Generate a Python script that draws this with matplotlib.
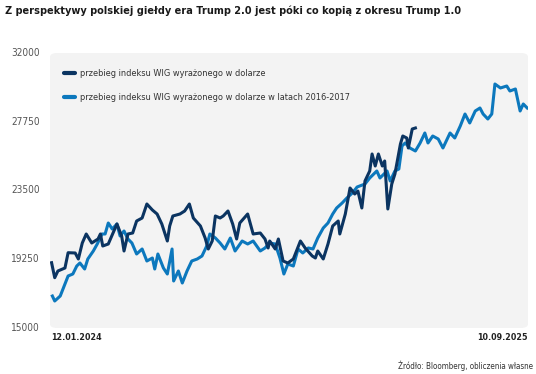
import matplotlib
matplotlib.use('Agg')
from matplotlib import pyplot as plt
from matplotlib.patches import FancyBboxPatch
from matplotlib.lines import Line2D

# days since 12.01.2024 and index level (USD)
days_now = [2, 6, 10, 19, 23, 32, 36, 41, 46, 53, 61, 64, 67, 74, 85, 91, 94, 99, 105, 110,
            117, 123, 130, 136, 142, 149, 152, 156, 165, 171, 177, 182, 191, 197, 201, 206, 210,
            216, 220, 226, 232, 237, 241, 251, 258, 267, 273, 277, 279, 286, 290, 296, 302, 309,
            318, 324, 333, 337, 340, 347, 353, 359, 366, 368, 375, 378, 381, 387, 391, 396, 400,
            406, 409, 413, 417, 422, 425, 429, 434, 438, 445, 448, 453, 455, 460, 464]
wig_now = [19037, 18110, 18524, 18709, 19655, 19637, 19266, 20255, 20811, 20255, 20502, 20811,
           20069, 20193, 21429, 20687, 19760, 20811, 20873, 21615, 21800, 22666, 22295, 22047,
           21429, 20378, 21306, 21924, 22047, 22233, 22666, 21800, 21306, 20564, 19884, 20378,
           21924, 21800, 21924, 22233, 21429, 20502, 21491, 22047, 20811, 20873, 20502, 19946,
           20378, 19884, 20502, 19142, 19018, 19266, 20378, 19946, 19451, 19327, 19760, 19266,
           20193, 21306, 21615, 20811, 22047, 22851, 23655, 23284, 23467, 22418, 24088, 24706,
           25757, 25015, 25757, 25015, 25324, 22357, 23902, 24520, 26375, 26869, 26746, 26128,
           27302, 27364]

days_old = [3, 6, 13, 17, 23, 29, 34, 38, 44, 48, 55, 60, 66, 70, 74, 79, 85, 89, 94, 99, 104,
            110, 117, 123, 130, 133, 137, 144, 149, 155, 157, 163, 168, 174, 180, 187, 193, 199,
            203, 210, 216, 222, 229, 235, 244, 251, 258, 267, 273, 279, 286, 292, 297, 302, 309,
            315, 321, 328, 334, 340, 347, 353, 359, 364, 371, 377, 384, 390, 400, 406, 415, 419,
            428, 432, 438, 443, 447, 451, 457, 464, 470, 476, 480, 486, 493, 499, 508, 514, 521,
            527, 533, 540, 546, 550, 556, 561, 565, 572, 580, 584, 591, 597, 601, 606]
wig_old = [16978, 16669, 16978, 17473, 18215, 18338, 18833, 19018, 18647, 19266, 19760, 20193,
           20811, 20811, 21491, 21120, 21429, 20687, 20997, 20502, 20255, 19575, 19884, 19142,
           19327, 18647, 19575, 18709, 18338, 19884, 17906, 18524, 17782, 18524, 19142, 19266,
           19451, 20069, 20811, 20564, 20255, 19884, 20564, 19760, 20378, 20193, 20378, 19760,
           19946, 20255, 20193, 19327, 18338, 18956, 18833, 19884, 19637, 19946, 19884, 20564,
           21182, 21491, 22047, 22418, 22728, 23037, 23346, 23717, 23902, 24273, 24706, 24273,
           24706, 24088, 24706, 24829, 26251, 26437, 26128, 25942, 26437, 27055, 26437, 26869,
           26684, 26128, 27055, 26746, 27488, 28229, 27673, 28415, 28600, 28229, 27920, 28229,
           30084, 29837, 29960, 29651, 29775, 28415, 28848, 28600]

y_ticks = [15000, 19250, 23500, 27750, 32000]
labels = ['przebieg indeksu WIG wyrażonego w dolarze',
          'przebieg indeksu WIG wyrażonego w dolarze w latach 2016-2017']
dark = '#0b3461'
light = '#0c78bd'

plt.rcParams['font.family'] = ['DejaVu Sans']
plt.rcParams['font.stretch'] = 'condensed'

fig = plt.figure(figsize=(5.36, 3.74), dpi=100)
ax = fig.add_axes([50 / 536, 46 / 374, 478 / 536, 275 / 374])
ax.set_xlim(0, 607)
ax.set_ylim(15000, 32000)
ax.axis('off')

bg = FancyBboxPatch((0, 0), 1, 1, boxstyle='round,pad=0,rounding_size=0.015',
                    transform=ax.transAxes, facecolor='#f3f3f3', edgecolor='none', zorder=0)
ax.add_patch(bg)

ax.plot(days_old, wig_old, color=light, lw=2.2, zorder=2, solid_joinstyle='round')
ax.plot(days_now, wig_now, color=dark, lw=2.2, zorder=3, solid_joinstyle='round')

for t in y_ticks:
    ax.text(-10 / 478 * 607, t, str(t), ha='right', va='center', fontsize=7.2, color='#555555')

fig.text(5 / 536, 1 - 11 / 374, 'Z perspektywy polskiej giełdy era Trump 2.0 jest póki co kopią z okresu Trump 1.0',
         ha='left', va='center', fontsize=7.85, fontweight='bold', color='#1a1a1a')
fig.text(51 / 536, 1 - 338 / 374, '12.01.2024', ha='left', va='center', fontsize=6.4,
         fontweight='bold', color='#222222')
fig.text(528 / 536, 1 - 338 / 374, '10.09.2025', ha='right', va='center', fontsize=6.4,
         fontweight='bold', color='#222222')
fig.text(533 / 536, 1 - 366 / 374, 'Źródło: Bloomberg, obliczenia własne', ha='right', va='center',
         fontsize=5.8, color='#333333')

handles = [Line2D([], [], color=dark, lw=3, solid_capstyle='round'),
           Line2D([], [], color=light, lw=3, solid_capstyle='round')]
ax.legend(handles, labels, loc='upper left', bbox_to_anchor=(0.012, 0.972), frameon=False,
          fontsize=6.6, handlelength=1.2, handletextpad=0.55, labelspacing=1.62, labelcolor='#333333')

fig.savefig('out.png', dpi=100)
